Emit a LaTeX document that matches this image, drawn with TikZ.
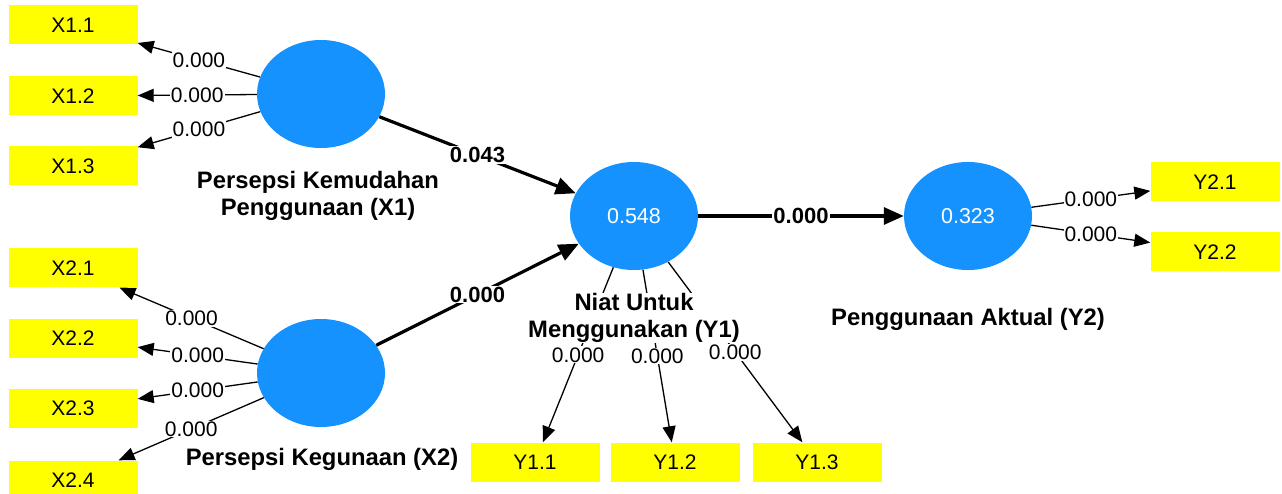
\documentclass[tikz,border=0pt]{standalone}
\usepackage{fontspec}
\setmainfont{Liberation Sans}
\usetikzlibrary{shapes.geometric,arrows.meta}
\definecolor{latentblue}{RGB}{22,146,255}
\definecolor{indyellow}{RGB}{255,255,0}
\tikzset{
  latent/.style={ellipse,fill=latentblue,draw=none,minimum width=128pt,minimum height=108pt,
    text=white,font=\fontsize{21.5}{24}\selectfont},
  indicator/.style={rectangle,fill=indyellow,draw=none,minimum width=129pt,minimum height=39pt,
    font=\fontsize{21}{24}\selectfont},
  lvname/.style={fill=white,inner sep=0.5pt,align=center,font=\bfseries\fontsize{23.8}{27.5}\selectfont},
  load/.style={-{Triangle[length=16pt,width=13pt]},line width=1.3pt},
  path/.style={-{Triangle[length=20pt,width=17pt]},line width=3.2pt},
  wlbl/.style={fill=white,inner sep=1pt,font=\fontsize{21}{23}\selectfont},
  plbl/.style={fill=white,inner sep=1pt,font=\bfseries\fontsize{22}{24}\selectfont},
}
\begin{document}
\begin{tikzpicture}[x=1pt,y=-1pt]
\useasboundingbox (0,0) rectangle (1282,494);
% latent variables
\node[latent] (pku) at (321,94) {};
\node[latent] (pk) at (321,373) {};
\node[latent] (niat) at (634,216) {0.548};
\node[latent] (akt) at (968,216) {0.323};
% indicators
\node[indicator] (x11) at (73,25) {X1.1};
\node[indicator] (x12) at (73,96) {X1.2};
\node[indicator] (x13) at (73,166) {X1.3};
\node[indicator] (x21) at (73,268) {X2.1};
\node[indicator] (x22) at (73,338) {X2.2};
\node[indicator] (x23) at (73,408) {X2.3};
\node[indicator] (x24) at (73,480) {X2.4};
\node[indicator] (y11) at (535,462) {Y1.1};
\node[indicator] (y12) at (675,462) {Y1.2};
\node[indicator] (y13) at (817,462) {Y1.3};
\node[indicator] (y21) at (1215,182) {Y2.1};
\node[indicator] (y22) at (1215,252) {Y2.2};
% outer loadings
\draw[load] (pku) -- node[wlbl]{0.000} (x11);
\draw[load] (pku) -- node[wlbl]{0.000} (x12);
\draw[load] (pku) -- node[wlbl]{0.000} (x13);
\draw[load] (pk) -- node[wlbl]{0.000} (x21);
\draw[load] (pk) -- node[wlbl]{0.000} (x22);
\draw[load] (pk) -- node[wlbl]{0.000} (x23);
\draw[load] (pk) -- node[wlbl]{0.000} (x24);
\draw[load] (niat) -- node[wlbl]{0.000} (y11);
\draw[load] (niat) -- node[wlbl]{0.000} (y12);
\draw[load] (niat) -- node[wlbl]{0.000} (y13);
\draw[load] (akt) -- node[wlbl]{0.000} (y21);
\draw[load] (akt) -- node[wlbl]{0.000} (y22);
% structural paths
\draw[path] (pku) -- node[plbl]{0.043} (niat);
\draw[path] (pk) -- node[plbl]{0.000} (niat);
\draw[path] (niat) -- node[plbl]{0.000} (akt);
% construct names
\node[lvname] (pkuname) at (318,196) {Persepsi Kemudahan\\Penggunaan (X1)};
\node[lvname] (pkname) at (322,459) {Persepsi Kegunaan (X2)};
\node[lvname] (niatname) at (634,318) {Niat Untuk\\Menggunakan (Y1)};
\node[lvname] (aktname) at (968,319) {Penggunaan Aktual (Y2)};
\end{tikzpicture}
\end{document}
